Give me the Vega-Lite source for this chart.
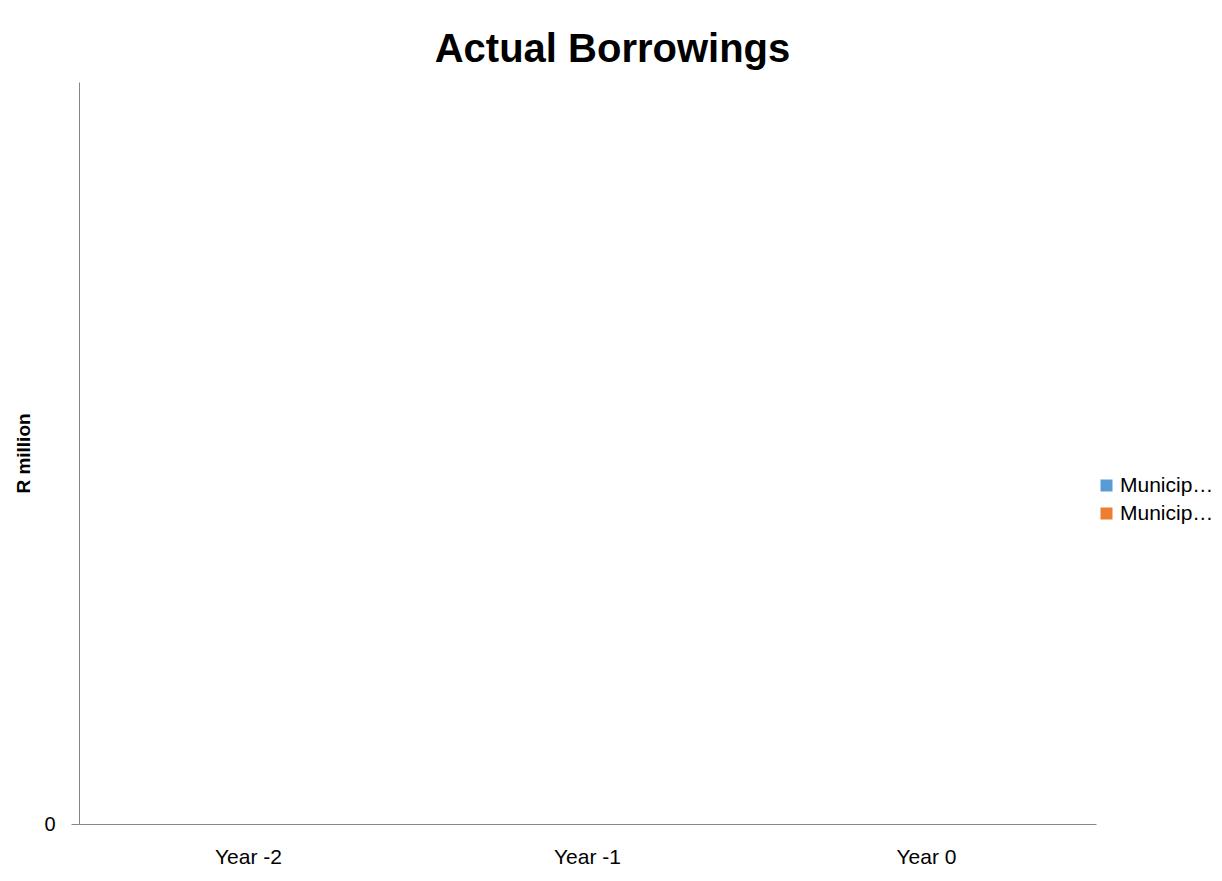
{
  "$schema": "https://vega.github.io/schema/vega-lite/v6.json",
  "width": 1017,
  "height": 742,
  "autosize": {"type": "none"},
  "padding": {"left": 79, "top": 82, "right": 126, "bottom": 57},
  "background": "white",
  "title": {
    "text": "Actual Borrowings",
    "font": "Liberation Sans",
    "fontSize": 40,
    "fontWeight": "bold",
    "color": "black",
    "anchor": "middle",
    "dx": 25,
    "baseline": "alphabetic",
    "offset": -20
  },
  "data": {
    "values": [
      {"year": "Year -2", "series": "Municipal borrowings", "value": 0},
      {"year": "Year -2", "series": "Municipal entities borrowings", "value": 0},
      {"year": "Year -1", "series": "Municipal borrowings", "value": 0},
      {"year": "Year -1", "series": "Municipal entities borrowings", "value": 0},
      {"year": "Year 0", "series": "Municipal borrowings", "value": 0},
      {"year": "Year 0", "series": "Municipal entities borrowings", "value": 0}
    ]
  },
  "mark": {"type": "bar"},
  "encoding": {
    "x": {
      "field": "year",
      "type": "nominal",
      "sort": ["Year -2", "Year -1", "Year 0"],
      "scale": {"paddingInner": 0, "paddingOuter": 0},
      "axis": {
        "title": null,
        "labelAngle": 0,
        "ticks": false,
        "labelFont": "Liberation Sans",
        "labelFontSize": 21,
        "labelColor": "black",
        "labelPadding": 22,
        "domainColor": "#868686",
        "domainWidth": 1
      }
    },
    "xOffset": {"field": "series", "type": "nominal"},
    "y": {
      "field": "value",
      "type": "quantitative",
      "scale": {"domain": [0, 1]},
      "axis": {
        "values": [0],
        "grid": false,
        "title": "R million",
        "titleFont": "Liberation Sans",
        "titleFontSize": 19,
        "titleFontWeight": "bold",
        "titleColor": "black",
        "titlePadding": 10,
        "labelFont": "Liberation Sans",
        "labelFontSize": 20,
        "labelColor": "black",
        "labelPadding": 16,
        "tickSize": 8,
        "tickColor": "#868686",
        "domainColor": "#868686"
      }
    },
    "color": {
      "field": "series",
      "type": "nominal",
      "scale": {"range": ["#5B9BD5", "#ED7D31"]},
      "legend": {
        "title": null,
        "orient": "none",
        "legendX": 1017,
        "legendY": 393,
        "padding": 0,
        "symbolType": "square",
        "symbolSize": 144,
        "symbolStrokeWidth": 0,
        "labelFont": "Liberation Sans",
        "labelFontSize": 21,
        "labelColor": "black",
        "labelLimit": 100,
        "labelOffset": 3,
        "rowPadding": 6
      }
    }
  },
  "config": {"view": {"stroke": null}}
}
